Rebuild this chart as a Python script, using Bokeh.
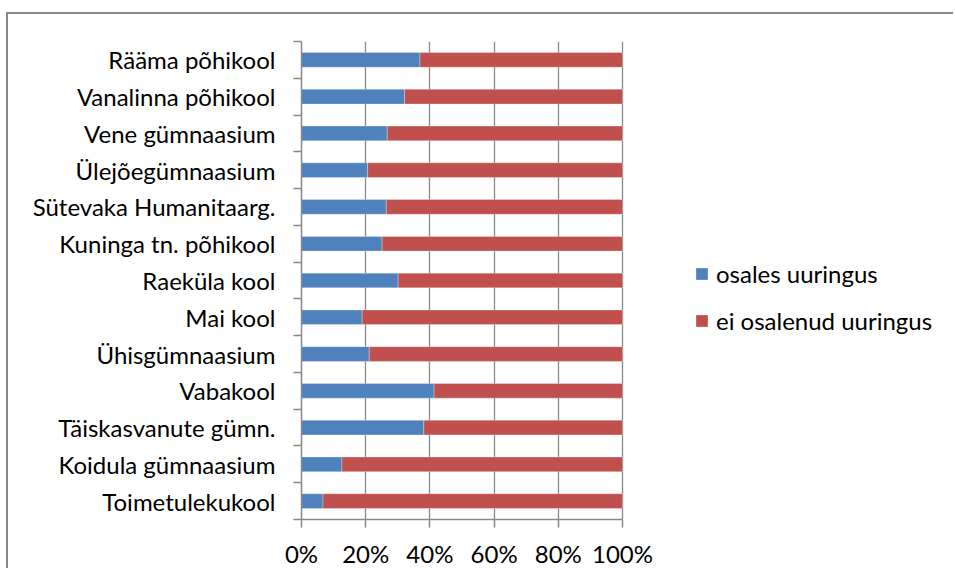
from bokeh.plotting import figure
from bokeh.models import (FixedTicker, Legend, LegendItem, Range1d,
                          PrintfTickFormatter, ColumnDataSource)
from bokeh.embed import file_html
from bokeh.resources import INLINE

# ---- data (bottom to top) ----
schools = ["Toimetulekukool", "Koidula gümnaasium", "Täiskasvanute gümn.",
           "Vabakool", "Ühisgümnaasium", "Mai kool", "Raeküla kool",
           "Kuninga tn. põhikool", "Sütevaka Humanitaarg.", "Ülejõegümnaasium",
           "Vene gümnaasium", "Vanalinna põhikool", "Rääma põhikool"]
osales = [6.7, 12.6, 38.1, 41.3, 21.1, 18.9, 30.1, 25.1, 26.4, 20.6, 26.7, 32.1, 36.9]
ei_osalenud = [93.3, 87.4, 61.9, 58.7, 78.9, 81.1, 69.9, 74.9, 73.6, 79.4, 73.3, 67.9, 63.1]
series_labels = ["osales uuringus", "ei osalenud uuringus"]
x_ticks = [0, 20, 40, 60, 80, 100]

FONT = "Lato"
FS = "24px"
GRAY = "#888888"

# layout (pixels)
W, H = 947, 556
ML, MR, MT, MB = 293, 0, 27, 49
FRAME_W = W - ML - MR
BAR_AREA_W = 321          # pixel width that spans 0..100 %
x_end = 100 * FRAME_W / BAR_AREA_W

y_pos = [i + 0.5 for i in range(len(schools))]
source = ColumnDataSource(dict(y=y_pos, school=schools, osales=osales, ei=ei_osalenud))

p = figure(width=W, height=H, output_backend="svg", toolbar_location=None,
           x_range=Range1d(0, x_end), y_range=Range1d(0, len(schools)),
           min_border_left=ML, min_border_right=MR, min_border_top=MT,
           min_border_bottom=MB)
# chart-area frame (top and left edges visible, as in the cropped original)
p.styles = {"box-shadow": "-2px -2px 0 0 #878787",
            "margin-left": "8px", "margin-top": "14px"}
p.outline_line_color = None
p.background_fill_color = "white"

renderers = p.hbar_stack(["osales", "ei"], y="y", height=0.4, source=source,
                         color=["#4F81BD", "#C0504D"], line_color="#FFFFFF",
                         line_alpha=0.6, line_width=0.5)

# grid
p.ygrid.visible = False
p.xgrid.ticker = FixedTicker(ticks=x_ticks)
p.xgrid.grid_line_color = GRAY
p.xgrid.grid_line_width = 1.3
p.xgrid.level = "underlay"

# x axis
xa = p.xaxis[0]
xa.bounds = (0, 100)
xa.ticker = FixedTicker(ticks=x_ticks)
xa.formatter = PrintfTickFormatter(format="%d%%")
xa.major_tick_out = 8
xa.major_tick_in = 0
xa.minor_tick_out = 0
xa.minor_tick_in = 0
xa.axis_line_color = GRAY
xa.axis_line_width = 1.5
xa.major_tick_line_color = GRAY
xa.major_tick_line_width = 1.5
xa.major_label_text_font = FONT
xa.major_label_text_font_size = FS
xa.major_label_text_color = "black"
xa.major_label_standoff = 11

# y axis: labels at centres, ticks at band boundaries
ya = p.yaxis[0]
ya.ticker = FixedTicker(ticks=y_pos, minor_ticks=list(range(len(schools) + 1)))
ya.major_label_overrides = {y: s for y, s in zip(y_pos, schools)}
ya.major_tick_out = 0
ya.major_tick_in = 0
ya.minor_tick_out = 8
ya.minor_tick_in = 0
ya.minor_tick_line_color = GRAY
ya.minor_tick_line_width = 1.5
ya.axis_line_color = GRAY
ya.axis_line_width = 1.5
ya.major_label_text_font = FONT
ya.major_label_text_font_size = FS
ya.major_label_text_color = "black"
ya.major_label_standoff = 18

legend = Legend(items=[LegendItem(label=series_labels[0], renderers=[renderers[0]]),
                       LegendItem(label=series_labels[1], renderers=[renderers[1]])],
                location=(393, 184), orientation="vertical",
                glyph_width=15, glyph_height=15, label_height=28, spacing=18,
                padding=0, margin=0, border_line_color=None,
                background_fill_alpha=0, label_standoff=7,
                label_text_font=FONT, label_text_font_size=FS,
                label_text_color="black")
p.add_layout(legend, "center")

open("out.html", "w").write(file_html(p, INLINE))
